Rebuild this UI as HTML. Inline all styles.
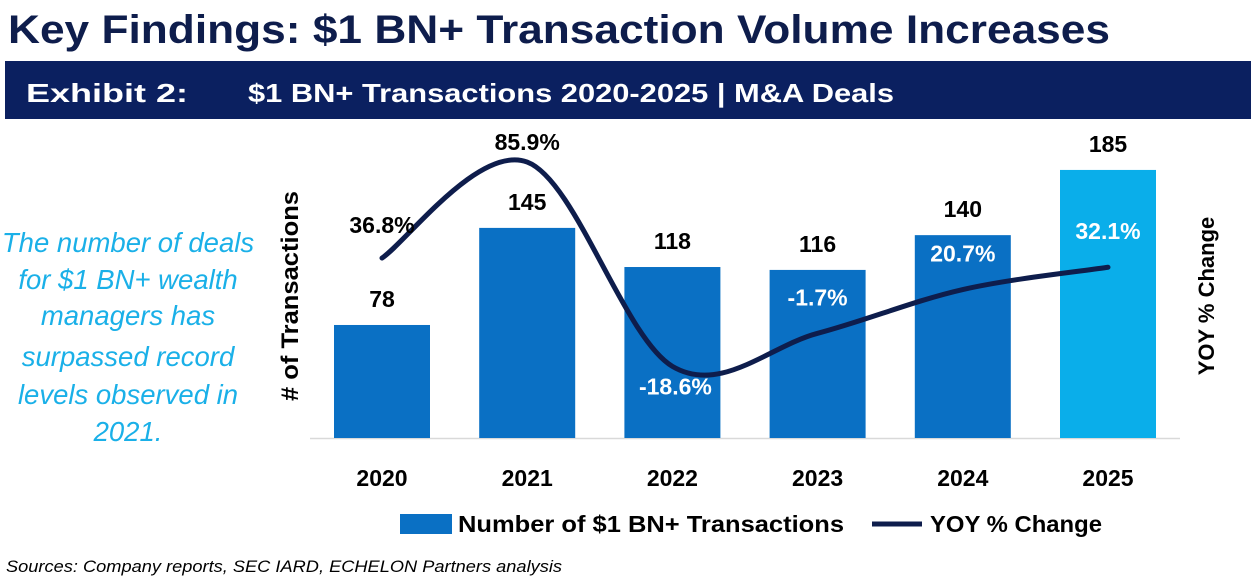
<!DOCTYPE html>
<html><head><meta charset="utf-8"><style>
body{margin:0;background:#fff;}
svg{display:block;font-family:"Liberation Sans",sans-serif;}
</style></head><body>
<svg id="chart" width="1256" height="584">
<text x="8" y="43" font-size="40" font-weight="bold" fill="#0e1d4c" textLength="1102" lengthAdjust="spacingAndGlyphs">Key Findings: $1 BN+ Transaction Volume Increases</text>
<rect x="5" y="61" width="1246" height="58" fill="#0b2060"/>
<text x="26" y="102" font-size="26" font-weight="bold" fill="#fff" textLength="162" lengthAdjust="spacingAndGlyphs">Exhibit 2:</text>
<text x="248" y="102" font-size="26" font-weight="bold" fill="#fff" textLength="646" lengthAdjust="spacingAndGlyphs">$1 BN+ Transactions 2020-2025 | M&amp;A Deals</text>
<g font-size="27.5" font-style="italic" fill="#1ab0e8" text-anchor="middle">
<text x="128" y="252">The number of deals</text>
<text x="128" y="289">for $1 BN+ wealth</text>
<text x="128" y="325">managers has</text>
<text x="128" y="366">surpassed record</text>
<text x="128" y="404">levels observed in</text>
<text x="128" y="441">2021.</text>
</g>
<text transform="translate(298,296) rotate(-90)" text-anchor="middle" font-size="24" font-weight="bold" fill="#000" textLength="210" lengthAdjust="spacingAndGlyphs"># of Transactions</text>
<text transform="translate(1214,296) rotate(-90)" text-anchor="middle" font-size="22" font-weight="bold" fill="#000">YOY % Change</text>
<line x1="310" y1="438.5" x2="1180" y2="438.5" stroke="#d9d9d9" stroke-width="1.5"/>
<g id="bars"></g><g id="line"></g><g id="labels"></g>
<g>
<rect x="400" y="514" width="52" height="20" fill="#0a70c4"/>
<text x="458" y="532" font-size="23" font-weight="bold" fill="#000" textLength="386" lengthAdjust="spacingAndGlyphs">Number of $1 BN+ Transactions</text>
<line x1="872" y1="524" x2="922" y2="524" stroke="#0e1d4c" stroke-width="5"/>
<text x="930" y="532" font-size="23" font-weight="bold" fill="#000" textLength="172" lengthAdjust="spacingAndGlyphs">YOY % Change</text>
</g>
<text x="6" y="572" font-size="17" font-style="italic" fill="#000" textLength="556" lengthAdjust="spacingAndGlyphs">Sources: Company reports, SEC IARD, ECHELON Partners analysis</text>
</svg>
<script>
const years=["2020","2021","2022","2023","2024","2025"];
const counts=[78,145,118,116,140,185];
const yoy=[36.8,85.9,-18.6,-1.7,20.7,32.1];
const yoyLabels=["36.8%","85.9%","-18.6%","-1.7%","20.7%","32.1%"];
const NS="http://www.w3.org/2000/svg";
function xC(i){return 382+i*145.2;}
function yB(v){return 438-v*1.449;}
function yL(v){return 330-v*1.955;}
function mk(t,a,p){const e=document.createElementNS(NS,t);for(const k in a)e.setAttribute(k,a[k]);p.appendChild(e);return e;}
const bars=document.getElementById('bars'),line=document.getElementById('line'),labels=document.getElementById('labels');
counts.forEach((v,i)=>{
 const r=mk('rect',{x:xC(i)-48,y:yB(v),width:96,height:438-yB(v),fill:i===5?'#0aaeea':'#0a70c4'},bars);
 
 
 const t=mk('text',{x:xC(i),y:yB(v)-18,'text-anchor':'middle','font-size':23,'font-weight':'bold',fill:'#000'},labels);
 t.textContent=v;
 
 
 const xl=mk('text',{x:xC(i),y:486,'text-anchor':'middle','font-size':23,'font-weight':'bold',fill:'#000'},labels);
 xl.textContent=years[i];
 
 
});
const pts=yoy.map((v,i)=>[xC(i),yL(v)]);
let d='M'+pts[0][0]+','+pts[0][1];
for(let i=0;i<pts.length-1;i++){
 const p0=pts[Math.max(i-1,0)],p1=pts[i],p2=pts[i+1],p3=pts[Math.min(i+2,pts.length-1)];
 const c1=[p1[0]+(p2[0]-p0[0])/6,p1[1]+(p2[1]-p0[1])/6],c2=[p2[0]-(p3[0]-p1[0])/6,p2[1]-(p3[1]-p1[1])/6];
 d+=' C'+c1+' '+c2+' '+p2;
}
const path=mk('path',{d:d,fill:'none',stroke:'#0e1d4c','stroke-width':5,'stroke-linecap':'round'},line);


yoy.forEach((v,i)=>{
 let y,fill='#fff';
 if(i===0){y=yL(v)-25;fill='#000';}
 else if(i===1){y=yL(v)-12;fill='#000';}
 else if(v<0&&i===2){y=yL(v)+28;}
 else{y=yL(v)-28;}
 const t=mk('text',{x:xC(i)+(i===2?3:0),y:y,'text-anchor':'middle','font-size':23,'font-weight':'bold',fill:fill},labels);
 t.textContent=yoyLabels[i];
 
 
});
</script>
</body></html>
